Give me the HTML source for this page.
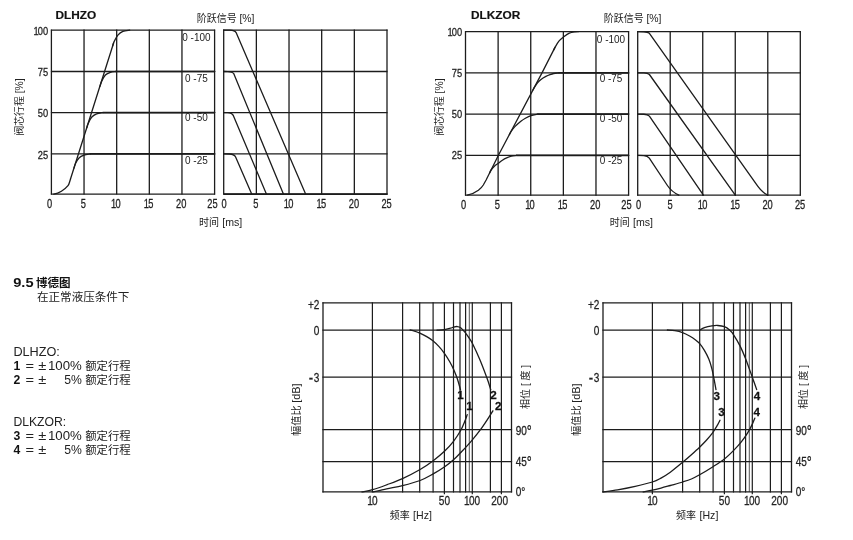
<!DOCTYPE html>
<html lang="zh"><head><meta charset="utf-8"><title>9.5 博德图</title>
<style>
html,body{margin:0;padding:0;background:#fff}
svg{display:block;font-family:"Liberation Sans", "Noto Sans CJK SC", sans-serif;transform:translateZ(0);will-change:transform}
text{white-space:pre}
</style></head>
<body>
<svg width="853" height="540" viewBox="0 0 853 540">
<rect width="853" height="540" fill="#fff"/>
<line x1="51.40" y1="29.60" x2="51.40" y2="194.60" stroke="#1c1c1c" stroke-width="1.3"/>
<line x1="84.04" y1="29.60" x2="84.04" y2="194.60" stroke="#1c1c1c" stroke-width="1.3"/>
<line x1="116.68" y1="29.60" x2="116.68" y2="194.60" stroke="#1c1c1c" stroke-width="1.3"/>
<line x1="149.32" y1="29.60" x2="149.32" y2="194.60" stroke="#1c1c1c" stroke-width="1.3"/>
<line x1="181.96" y1="29.60" x2="181.96" y2="194.60" stroke="#1c1c1c" stroke-width="1.3"/>
<line x1="214.60" y1="29.60" x2="214.60" y2="194.60" stroke="#1c1c1c" stroke-width="1.3"/>
<line x1="50.90" y1="30.10" x2="215.10" y2="30.10" stroke="#1c1c1c" stroke-width="1.3"/>
<line x1="50.90" y1="71.50" x2="215.10" y2="71.50" stroke="#1c1c1c" stroke-width="1.3"/>
<line x1="50.90" y1="112.60" x2="215.10" y2="112.60" stroke="#1c1c1c" stroke-width="1.3"/>
<line x1="50.90" y1="153.90" x2="215.10" y2="153.90" stroke="#1c1c1c" stroke-width="1.3"/>
<line x1="50.90" y1="194.10" x2="215.10" y2="194.10" stroke="#1c1c1c" stroke-width="1.3"/>
<line x1="223.70" y1="29.60" x2="223.70" y2="194.60" stroke="#1c1c1c" stroke-width="1.3"/>
<line x1="256.36" y1="29.60" x2="256.36" y2="194.60" stroke="#1c1c1c" stroke-width="1.3"/>
<line x1="289.02" y1="29.60" x2="289.02" y2="194.60" stroke="#1c1c1c" stroke-width="1.3"/>
<line x1="321.68" y1="29.60" x2="321.68" y2="194.60" stroke="#1c1c1c" stroke-width="1.3"/>
<line x1="354.34" y1="29.60" x2="354.34" y2="194.60" stroke="#1c1c1c" stroke-width="1.3"/>
<line x1="387.00" y1="29.60" x2="387.00" y2="194.60" stroke="#1c1c1c" stroke-width="1.3"/>
<line x1="223.20" y1="30.10" x2="387.50" y2="30.10" stroke="#1c1c1c" stroke-width="1.3"/>
<line x1="223.20" y1="71.50" x2="387.50" y2="71.50" stroke="#1c1c1c" stroke-width="1.3"/>
<line x1="223.20" y1="112.60" x2="387.50" y2="112.60" stroke="#1c1c1c" stroke-width="1.3"/>
<line x1="223.20" y1="153.90" x2="387.50" y2="153.90" stroke="#1c1c1c" stroke-width="1.3"/>
<line x1="223.20" y1="194.10" x2="387.50" y2="194.10" stroke="#1c1c1c" stroke-width="1.3"/>
<text transform="translate(48.20,34.90) scale(0.81,1)" font-size="11.5" text-anchor="end" font-weight="normal" fill="#222" stroke="#222" stroke-width="0.28"><tspan letter-spacing="-1.0">1</tspan>00</text>
<text transform="translate(48.20,76.30) scale(0.81,1)" font-size="11.5" text-anchor="end" font-weight="normal" fill="#222" stroke="#222" stroke-width="0.28">75</text>
<text transform="translate(48.20,117.40) scale(0.81,1)" font-size="11.5" text-anchor="end" font-weight="normal" fill="#222" stroke="#222" stroke-width="0.28">50</text>
<text transform="translate(48.20,158.70) scale(0.81,1)" font-size="11.5" text-anchor="end" font-weight="normal" fill="#222" stroke="#222" stroke-width="0.28">25</text>
<text transform="translate(49.60,207.90) scale(0.775,1)" font-size="12.0" text-anchor="middle" font-weight="normal" fill="#222" stroke="#222" stroke-width="0.28">0</text>
<text transform="translate(83.24,207.90) scale(0.775,1)" font-size="12.0" text-anchor="middle" font-weight="normal" fill="#222" stroke="#222" stroke-width="0.28">5</text>
<text transform="translate(115.88,207.90) scale(0.775,1)" font-size="12.0" text-anchor="middle" font-weight="normal" fill="#222" stroke="#222" stroke-width="0.28"><tspan letter-spacing="-1.0">1</tspan>0</text>
<text transform="translate(148.52,207.90) scale(0.775,1)" font-size="12.0" text-anchor="middle" font-weight="normal" fill="#222" stroke="#222" stroke-width="0.28"><tspan letter-spacing="-1.0">1</tspan>5</text>
<text transform="translate(181.16,207.90) scale(0.775,1)" font-size="12.0" text-anchor="middle" font-weight="normal" fill="#222" stroke="#222" stroke-width="0.28">20</text>
<text transform="translate(212.40,207.90) scale(0.775,1)" font-size="12.0" text-anchor="middle" font-weight="normal" fill="#222" stroke="#222" stroke-width="0.28">25</text>
<text transform="translate(224.20,207.90) scale(0.775,1)" font-size="12.0" text-anchor="middle" font-weight="normal" fill="#222" stroke="#222" stroke-width="0.28">0</text>
<text transform="translate(255.96,207.90) scale(0.775,1)" font-size="12.0" text-anchor="middle" font-weight="normal" fill="#222" stroke="#222" stroke-width="0.28">5</text>
<text transform="translate(288.62,207.90) scale(0.775,1)" font-size="12.0" text-anchor="middle" font-weight="normal" fill="#222" stroke="#222" stroke-width="0.28"><tspan letter-spacing="-1.0">1</tspan>0</text>
<text transform="translate(321.28,207.90) scale(0.775,1)" font-size="12.0" text-anchor="middle" font-weight="normal" fill="#222" stroke="#222" stroke-width="0.28"><tspan letter-spacing="-1.0">1</tspan>5</text>
<text transform="translate(353.94,207.90) scale(0.775,1)" font-size="12.0" text-anchor="middle" font-weight="normal" fill="#222" stroke="#222" stroke-width="0.28">20</text>
<text transform="translate(386.60,207.90) scale(0.775,1)" font-size="12.0" text-anchor="middle" font-weight="normal" fill="#222" stroke="#222" stroke-width="0.28">25</text>
<text transform="translate(196.40,41.20) scale(0.98,1)" font-size="10.2" text-anchor="middle" font-weight="normal" fill="#222" >0 -100</text>
<text transform="translate(196.40,81.60) scale(0.98,1)" font-size="10.2" text-anchor="middle" font-weight="normal" fill="#222" >0 -75</text>
<text transform="translate(196.40,121.40) scale(0.98,1)" font-size="10.2" text-anchor="middle" font-weight="normal" fill="#222" >0 -50</text>
<text transform="translate(196.40,163.80) scale(0.98,1)" font-size="10.2" text-anchor="middle" font-weight="normal" fill="#222" >0 -25</text>
<text transform="translate(55.50,19.10)" font-size="11.8" text-anchor="start" font-weight="bold" fill="#111" stroke="#111" stroke-width="0.2">DLHZO</text>
<text transform="translate(196.80,22.00)" font-size="10.0" text-anchor="start" font-weight="normal" fill="#222" >阶跃信号</text>
<text transform="translate(239.40,22.00)" font-size="10.4" text-anchor="start" font-weight="normal" fill="#222" >[%]</text>
<text transform="translate(199.00,226.00)" font-size="10.0" text-anchor="start" font-weight="normal" fill="#222" >时间</text>
<text transform="translate(222.20,226.00)" font-size="10.6" text-anchor="start" font-weight="normal" fill="#222" >[ms]</text>
<g transform="translate(22.50,135.50) rotate(-90)">
<text transform="translate(0.00,0.00)" font-size="9.8" text-anchor="start" font-weight="normal" fill="#222" >阀芯行程</text>
<text transform="translate(42.20,0.00)" font-size="10.4" text-anchor="start" font-weight="normal" fill="#222" >[%]</text>
</g>
<path d="M53.8,194.1 C56.6,193.7 59.2,192.6 61.4,191.2 C64.2,189.4 66.4,187.6 68.0,185.6 C68.8,184.6 69.2,183.4 69.6,182.0 L70.5,179.0" fill="none" stroke="#1c1c1c" stroke-width="1.3" stroke-linejoin="round" stroke-linecap="round"/>
<path d="M70.50,179.00 L113.60,43.00" fill="none" stroke="#1c1c1c" stroke-width="1.3" stroke-linejoin="round" stroke-linecap="round"/>
<path d="M112.60,46.10 C112.85,45.35 113.22,43.43 114.10,41.60 C114.98,39.77 116.43,36.80 117.90,35.10 C119.37,33.40 120.93,32.23 122.90,31.40 C124.87,30.57 128.57,30.32 129.70,30.10" fill="none" stroke="#1c1c1c" stroke-width="1.3" stroke-linejoin="round" stroke-linecap="round"/>
<path d="M74.00,168.00 C74.27,167.20 74.77,164.87 75.60,163.20 C76.43,161.53 77.60,159.33 79.00,158.00 C80.40,156.67 82.12,155.88 84.00,155.20 C85.88,154.52 89.25,154.12 90.30,153.90" fill="none" stroke="#1c1c1c" stroke-width="1.3" stroke-linejoin="round" stroke-linecap="round"/>
<path d="M90.30,153.90 L214.60,153.90" fill="none" stroke="#1c1c1c" stroke-width="1.6" stroke-linejoin="round" stroke-linecap="round"/>
<path d="M86.80,127.80 C87.03,127.07 87.40,125.17 88.20,123.40 C89.00,121.63 90.20,118.80 91.60,117.20 C93.00,115.60 94.72,114.57 96.60,113.80 C98.48,113.03 101.85,112.80 102.90,112.60" fill="none" stroke="#1c1c1c" stroke-width="1.3" stroke-linejoin="round" stroke-linecap="round"/>
<path d="M102.90,112.60 L214.60,112.60" fill="none" stroke="#1c1c1c" stroke-width="1.6" stroke-linejoin="round" stroke-linecap="round"/>
<path d="M100.00,86.40 C100.27,85.57 100.70,83.30 101.60,81.40 C102.50,79.50 103.93,76.52 105.40,75.00 C106.87,73.48 108.65,72.88 110.40,72.30 C112.15,71.72 114.98,71.63 115.90,71.50" fill="none" stroke="#1c1c1c" stroke-width="1.3" stroke-linejoin="round" stroke-linecap="round"/>
<path d="M115.90,71.50 L214.60,71.50" fill="none" stroke="#1c1c1c" stroke-width="1.6" stroke-linejoin="round" stroke-linecap="round"/>
<path d="M223.70,30.10 L230.10,30.20 C232.90,30.35 235.00,30.85 236.10,32.60 L305.60,194.10" fill="none" stroke="#1c1c1c" stroke-width="1.3" stroke-linejoin="round" stroke-linecap="round"/>
<path d="M223.70,71.50 L227.80,71.60 C230.60,71.75 232.70,72.16 233.80,73.70 L283.40,194.10" fill="none" stroke="#1c1c1c" stroke-width="1.3" stroke-linejoin="round" stroke-linecap="round"/>
<path d="M223.70,112.60 L227.50,112.70 C230.30,112.85 232.40,113.59 233.50,115.90 L266.40,194.10" fill="none" stroke="#1c1c1c" stroke-width="1.3" stroke-linejoin="round" stroke-linecap="round"/>
<path d="M223.70,153.90 L229.50,154.00 C232.30,154.15 234.40,154.77 235.50,156.80 L251.70,194.10" fill="none" stroke="#1c1c1c" stroke-width="1.3" stroke-linejoin="round" stroke-linecap="round"/>
<line x1="223.70" y1="194.10" x2="387.50" y2="194.10" stroke="#1c1c1c" stroke-width="1.7"/>
<line x1="465.50" y1="31.10" x2="465.50" y2="195.70" stroke="#1c1c1c" stroke-width="1.3"/>
<line x1="498.12" y1="31.10" x2="498.12" y2="195.70" stroke="#1c1c1c" stroke-width="1.3"/>
<line x1="530.74" y1="31.10" x2="530.74" y2="195.70" stroke="#1c1c1c" stroke-width="1.3"/>
<line x1="563.36" y1="31.10" x2="563.36" y2="195.70" stroke="#1c1c1c" stroke-width="1.3"/>
<line x1="595.98" y1="31.10" x2="595.98" y2="195.70" stroke="#1c1c1c" stroke-width="1.3"/>
<line x1="628.60" y1="31.10" x2="628.60" y2="195.70" stroke="#1c1c1c" stroke-width="1.3"/>
<line x1="465.00" y1="31.60" x2="629.10" y2="31.60" stroke="#1c1c1c" stroke-width="1.3"/>
<line x1="465.00" y1="72.90" x2="629.10" y2="72.90" stroke="#1c1c1c" stroke-width="1.3"/>
<line x1="465.00" y1="114.10" x2="629.10" y2="114.10" stroke="#1c1c1c" stroke-width="1.3"/>
<line x1="465.00" y1="155.40" x2="629.10" y2="155.40" stroke="#1c1c1c" stroke-width="1.3"/>
<line x1="465.00" y1="195.20" x2="629.10" y2="195.20" stroke="#1c1c1c" stroke-width="1.3"/>
<line x1="637.70" y1="31.10" x2="637.70" y2="195.70" stroke="#1c1c1c" stroke-width="1.3"/>
<line x1="670.22" y1="31.10" x2="670.22" y2="195.70" stroke="#1c1c1c" stroke-width="1.3"/>
<line x1="702.74" y1="31.10" x2="702.74" y2="195.70" stroke="#1c1c1c" stroke-width="1.3"/>
<line x1="735.26" y1="31.10" x2="735.26" y2="195.70" stroke="#1c1c1c" stroke-width="1.3"/>
<line x1="767.78" y1="31.10" x2="767.78" y2="195.70" stroke="#1c1c1c" stroke-width="1.3"/>
<line x1="800.30" y1="31.10" x2="800.30" y2="195.70" stroke="#1c1c1c" stroke-width="1.3"/>
<line x1="637.20" y1="31.60" x2="800.80" y2="31.60" stroke="#1c1c1c" stroke-width="1.3"/>
<line x1="637.20" y1="72.90" x2="800.80" y2="72.90" stroke="#1c1c1c" stroke-width="1.3"/>
<line x1="637.20" y1="114.10" x2="800.80" y2="114.10" stroke="#1c1c1c" stroke-width="1.3"/>
<line x1="637.20" y1="155.40" x2="800.80" y2="155.40" stroke="#1c1c1c" stroke-width="1.3"/>
<line x1="637.20" y1="195.20" x2="800.80" y2="195.20" stroke="#1c1c1c" stroke-width="1.3"/>
<text transform="translate(462.20,35.60) scale(0.81,1)" font-size="11.5" text-anchor="end" font-weight="normal" fill="#222" stroke="#222" stroke-width="0.28"><tspan letter-spacing="-1.0">1</tspan>00</text>
<text transform="translate(462.20,76.90) scale(0.81,1)" font-size="11.5" text-anchor="end" font-weight="normal" fill="#222" stroke="#222" stroke-width="0.28">75</text>
<text transform="translate(462.20,118.10) scale(0.81,1)" font-size="11.5" text-anchor="end" font-weight="normal" fill="#222" stroke="#222" stroke-width="0.28">50</text>
<text transform="translate(462.20,159.40) scale(0.81,1)" font-size="11.5" text-anchor="end" font-weight="normal" fill="#222" stroke="#222" stroke-width="0.28">25</text>
<text transform="translate(463.70,209.10) scale(0.775,1)" font-size="12.0" text-anchor="middle" font-weight="normal" fill="#222" stroke="#222" stroke-width="0.28">0</text>
<text transform="translate(497.32,209.10) scale(0.775,1)" font-size="12.0" text-anchor="middle" font-weight="normal" fill="#222" stroke="#222" stroke-width="0.28">5</text>
<text transform="translate(529.94,209.10) scale(0.775,1)" font-size="12.0" text-anchor="middle" font-weight="normal" fill="#222" stroke="#222" stroke-width="0.28"><tspan letter-spacing="-1.0">1</tspan>0</text>
<text transform="translate(562.56,209.10) scale(0.775,1)" font-size="12.0" text-anchor="middle" font-weight="normal" fill="#222" stroke="#222" stroke-width="0.28"><tspan letter-spacing="-1.0">1</tspan>5</text>
<text transform="translate(595.18,209.10) scale(0.775,1)" font-size="12.0" text-anchor="middle" font-weight="normal" fill="#222" stroke="#222" stroke-width="0.28">20</text>
<text transform="translate(626.40,209.10) scale(0.775,1)" font-size="12.0" text-anchor="middle" font-weight="normal" fill="#222" stroke="#222" stroke-width="0.28">25</text>
<text transform="translate(638.50,209.10) scale(0.775,1)" font-size="12.0" text-anchor="middle" font-weight="normal" fill="#222" stroke="#222" stroke-width="0.28">0</text>
<text transform="translate(670.02,209.10) scale(0.775,1)" font-size="12.0" text-anchor="middle" font-weight="normal" fill="#222" stroke="#222" stroke-width="0.28">5</text>
<text transform="translate(702.54,209.10) scale(0.775,1)" font-size="12.0" text-anchor="middle" font-weight="normal" fill="#222" stroke="#222" stroke-width="0.28"><tspan letter-spacing="-1.0">1</tspan>0</text>
<text transform="translate(735.06,209.10) scale(0.775,1)" font-size="12.0" text-anchor="middle" font-weight="normal" fill="#222" stroke="#222" stroke-width="0.28"><tspan letter-spacing="-1.0">1</tspan>5</text>
<text transform="translate(767.58,209.10) scale(0.775,1)" font-size="12.0" text-anchor="middle" font-weight="normal" fill="#222" stroke="#222" stroke-width="0.28">20</text>
<text transform="translate(800.10,209.10) scale(0.775,1)" font-size="12.0" text-anchor="middle" font-weight="normal" fill="#222" stroke="#222" stroke-width="0.28">25</text>
<text transform="translate(611.00,42.80) scale(0.98,1)" font-size="10.2" text-anchor="middle" font-weight="normal" fill="#222" >0 -100</text>
<text transform="translate(611.00,82.40) scale(0.98,1)" font-size="10.2" text-anchor="middle" font-weight="normal" fill="#222" >0 -75</text>
<text transform="translate(611.00,122.40) scale(0.98,1)" font-size="10.2" text-anchor="middle" font-weight="normal" fill="#222" >0 -50</text>
<text transform="translate(611.00,164.40) scale(0.98,1)" font-size="10.2" text-anchor="middle" font-weight="normal" fill="#222" >0 -25</text>
<text transform="translate(471.00,19.10)" font-size="11.8" text-anchor="start" font-weight="bold" fill="#111" stroke="#111" stroke-width="0.2">DLKZOR</text>
<text transform="translate(603.80,22.00)" font-size="10.0" text-anchor="start" font-weight="normal" fill="#222" >阶跃信号</text>
<text transform="translate(646.40,22.00)" font-size="10.4" text-anchor="start" font-weight="normal" fill="#222" >[%]</text>
<text transform="translate(609.80,226.00)" font-size="10.0" text-anchor="start" font-weight="normal" fill="#222" >时间</text>
<text transform="translate(633.00,226.00)" font-size="10.6" text-anchor="start" font-weight="normal" fill="#222" >[ms]</text>
<g transform="translate(443.00,135.60) rotate(-90)">
<text transform="translate(0.00,0.00)" font-size="9.8" text-anchor="start" font-weight="normal" fill="#222" >阀芯行程</text>
<text transform="translate(42.20,0.00)" font-size="10.4" text-anchor="start" font-weight="normal" fill="#222" >[%]</text>
</g>
<path d="M467.4,195.2 C470.2,194.6 475.0,192.8 478.4,190.3 C480.6,188.6 482.2,186.8 483.3,185.0 L486.1,180.0 L498.3,155.5 L542.0,72.9 L555.0,47.4" fill="none" stroke="#1c1c1c" stroke-width="1.3" stroke-linejoin="round" stroke-linecap="round"/>
<path d="M553.60,50.20 C553.83,49.73 554.12,48.90 555.00,47.40 C555.88,45.90 557.43,42.98 558.90,41.20 C560.37,39.42 562.07,38.03 563.80,36.70 C565.53,35.37 567.52,34.02 569.30,33.20 C571.08,32.38 572.97,32.07 574.50,31.80 C576.03,31.53 577.83,31.63 578.50,31.60" fill="none" stroke="#1c1c1c" stroke-width="1.3" stroke-linejoin="round" stroke-linecap="round"/>
<path d="M489.60,173.00 C489.85,172.50 490.30,171.13 491.10,170.00 C491.90,168.87 493.20,167.32 494.40,166.20 C495.60,165.08 496.97,164.30 498.30,163.30 C499.63,162.30 501.00,161.10 502.40,160.20 C503.80,159.30 505.18,158.57 506.70,157.90 C508.22,157.23 509.83,156.62 511.50,156.20 C513.17,155.78 515.83,155.53 516.70,155.40" fill="none" stroke="#1c1c1c" stroke-width="1.3" stroke-linejoin="round" stroke-linecap="round"/>
<path d="M516.70,155.40 L628.60,155.40" fill="none" stroke="#1c1c1c" stroke-width="1.6" stroke-linejoin="round" stroke-linecap="round"/>
<path d="M509.40,134.60 C509.68,134.07 510.30,132.60 511.10,131.40 C511.90,130.20 513.12,128.62 514.20,127.40 C515.28,126.18 516.43,125.17 517.60,124.10 C518.77,123.03 519.97,121.93 521.20,121.00 C522.43,120.07 523.38,119.38 525.00,118.50 C526.62,117.62 528.75,116.42 530.90,115.70 C533.05,114.98 536.73,114.45 537.90,114.20" fill="none" stroke="#1c1c1c" stroke-width="1.3" stroke-linejoin="round" stroke-linecap="round"/>
<path d="M537.90,114.10 L628.60,114.10" fill="none" stroke="#1c1c1c" stroke-width="1.6" stroke-linejoin="round" stroke-linecap="round"/>
<path d="M533.00,89.90 C533.25,89.43 533.75,88.28 534.50,87.10 C535.25,85.92 536.42,84.08 537.50,82.80 C538.58,81.52 539.60,80.47 541.00,79.40 C542.40,78.33 544.40,77.20 545.90,76.40 C547.40,75.60 548.70,75.08 550.00,74.60 C551.30,74.12 552.22,73.78 553.70,73.50 C555.18,73.22 558.03,73.00 558.90,72.90" fill="none" stroke="#1c1c1c" stroke-width="1.3" stroke-linejoin="round" stroke-linecap="round"/>
<path d="M558.90,72.90 L628.60,72.90" fill="none" stroke="#1c1c1c" stroke-width="1.6" stroke-linejoin="round" stroke-linecap="round"/>
<path d="M637.70,31.60 L643.90,31.75 C646.40,31.90 648.20,32.28 649.40,33.30 L757.70,186.17 C761.10,190.97 764.50,193.60 767.70,195.20" fill="none" stroke="#1c1c1c" stroke-width="1.3" stroke-linejoin="round" stroke-linecap="round"/>
<path d="M637.70,72.80 L643.90,72.95 C646.40,73.10 648.20,73.48 649.40,74.50 L735.30,195.20" fill="none" stroke="#1c1c1c" stroke-width="1.3" stroke-linejoin="round" stroke-linecap="round"/>
<path d="M637.70,114.10 L643.90,114.25 C646.40,114.40 648.20,114.90 649.40,116.10 L703.40,195.20" fill="none" stroke="#1c1c1c" stroke-width="1.3" stroke-linejoin="round" stroke-linecap="round"/>
<path d="M637.70,155.40 L643.80,155.55 C646.30,155.70 648.10,156.48 649.30,158.10 L667.40,185.51 C670.80,190.66 675.60,193.60 678.80,195.20" fill="none" stroke="#1c1c1c" stroke-width="1.3" stroke-linejoin="round" stroke-linecap="round"/>
<text transform="translate(13.20,287.30) scale(1.22,1)" font-size="12.0" text-anchor="start" font-weight="bold" fill="#111" >9.5</text>
<text transform="translate(36.00,287.30)" font-size="11.55" text-anchor="start" font-weight="bold" fill="#111" >博德图</text>
<text transform="translate(37.00,301.00)" font-size="11.55" text-anchor="start" font-weight="normal" fill="#222" >在正常液压条件下</text>
<text transform="translate(13.40,356.00) scale(1.04,1)" font-size="12.2" text-anchor="start" font-weight="normal" fill="#222" >DLHZO:</text>
<text transform="translate(13.60,370.00)" font-size="12.2" text-anchor="start" font-weight="bold" fill="#111" >1</text>
<text transform="translate(25.60,370.00) scale(1.2,1)" font-size="12.2" text-anchor="start" font-weight="normal" fill="#222" >=</text>
<text transform="translate(38.20,370.00) scale(1.2,1)" font-size="12.2" text-anchor="start" font-weight="normal" fill="#222" >±</text>
<text transform="translate(81.80,370.00) scale(1.085,1)" font-size="12.2" text-anchor="end" font-weight="normal" fill="#222" >100%</text>
<text transform="translate(85.20,370.00)" font-size="11.4" text-anchor="start" font-weight="normal" fill="#222" >额定行程</text>
<text transform="translate(13.60,383.80)" font-size="12.2" text-anchor="start" font-weight="bold" fill="#111" >2</text>
<text transform="translate(25.60,383.80) scale(1.2,1)" font-size="12.2" text-anchor="start" font-weight="normal" fill="#222" >=</text>
<text transform="translate(38.20,383.80) scale(1.2,1)" font-size="12.2" text-anchor="start" font-weight="normal" fill="#222" >±</text>
<text transform="translate(81.80,383.80)" font-size="12.2" text-anchor="end" font-weight="normal" fill="#222" >5%</text>
<text transform="translate(85.20,383.80)" font-size="11.4" text-anchor="start" font-weight="normal" fill="#222" >额定行程</text>
<text transform="translate(13.40,425.80)" font-size="12.2" text-anchor="start" font-weight="normal" fill="#222" >DLKZOR:</text>
<text transform="translate(13.60,439.80)" font-size="12.2" text-anchor="start" font-weight="bold" fill="#111" >3</text>
<text transform="translate(25.60,439.80) scale(1.2,1)" font-size="12.2" text-anchor="start" font-weight="normal" fill="#222" >=</text>
<text transform="translate(38.20,439.80) scale(1.2,1)" font-size="12.2" text-anchor="start" font-weight="normal" fill="#222" >±</text>
<text transform="translate(81.80,439.80) scale(1.085,1)" font-size="12.2" text-anchor="end" font-weight="normal" fill="#222" >100%</text>
<text transform="translate(85.20,439.80)" font-size="11.4" text-anchor="start" font-weight="normal" fill="#222" >额定行程</text>
<text transform="translate(13.60,453.60)" font-size="12.2" text-anchor="start" font-weight="bold" fill="#111" >4</text>
<text transform="translate(25.60,453.60) scale(1.2,1)" font-size="12.2" text-anchor="start" font-weight="normal" fill="#222" >=</text>
<text transform="translate(38.20,453.60) scale(1.2,1)" font-size="12.2" text-anchor="start" font-weight="normal" fill="#222" >±</text>
<text transform="translate(81.80,453.60)" font-size="12.2" text-anchor="end" font-weight="normal" fill="#222" >5%</text>
<text transform="translate(85.20,453.60)" font-size="11.4" text-anchor="start" font-weight="normal" fill="#222" >额定行程</text>
<line x1="323.00" y1="302.30" x2="323.00" y2="492.50" stroke="#1c1c1c" stroke-width="1.3"/>
<line x1="372.40" y1="302.30" x2="372.40" y2="492.50" stroke="#1c1c1c" stroke-width="1.2"/>
<line x1="402.60" y1="302.30" x2="402.60" y2="492.50" stroke="#1c1c1c" stroke-width="1.2"/>
<line x1="419.70" y1="302.30" x2="419.70" y2="492.50" stroke="#1c1c1c" stroke-width="1.2"/>
<line x1="433.10" y1="302.30" x2="433.10" y2="492.50" stroke="#1c1c1c" stroke-width="1.2"/>
<line x1="444.40" y1="302.30" x2="444.40" y2="492.50" stroke="#1c1c1c" stroke-width="1.2"/>
<line x1="453.50" y1="302.30" x2="453.50" y2="492.50" stroke="#1c1c1c" stroke-width="1.2"/>
<line x1="460.00" y1="302.30" x2="460.00" y2="492.50" stroke="#1c1c1c" stroke-width="1.2"/>
<line x1="465.60" y1="302.30" x2="465.60" y2="492.50" stroke="#1c1c1c" stroke-width="1.2"/>
<line x1="469.30" y1="302.90" x2="469.30" y2="491.90" stroke="#555" stroke-width="1.0"/>
<line x1="472.30" y1="302.30" x2="472.30" y2="492.50" stroke="#1c1c1c" stroke-width="1.2"/>
<line x1="490.40" y1="302.30" x2="490.40" y2="492.50" stroke="#1c1c1c" stroke-width="1.2"/>
<line x1="501.40" y1="302.30" x2="501.40" y2="492.50" stroke="#1c1c1c" stroke-width="1.2"/>
<line x1="511.50" y1="302.30" x2="511.50" y2="492.50" stroke="#1c1c1c" stroke-width="1.3"/>
<line x1="322.40" y1="302.90" x2="512.10" y2="302.90" stroke="#1c1c1c" stroke-width="1.3"/>
<line x1="322.40" y1="330.10" x2="512.10" y2="330.10" stroke="#1c1c1c" stroke-width="1.3"/>
<line x1="322.40" y1="377.10" x2="512.10" y2="377.10" stroke="#1c1c1c" stroke-width="1.3"/>
<line x1="322.40" y1="429.60" x2="512.10" y2="429.60" stroke="#1c1c1c" stroke-width="1.3"/>
<line x1="322.40" y1="461.60" x2="512.10" y2="461.60" stroke="#1c1c1c" stroke-width="1.3"/>
<line x1="322.40" y1="491.90" x2="512.10" y2="491.90" stroke="#1c1c1c" stroke-width="1.3"/>
<text transform="translate(319.40,308.50) scale(0.775,1)" font-size="13.0" text-anchor="end" font-weight="normal" fill="#222" stroke="#222" stroke-width="0.28">+2</text>
<text transform="translate(319.40,334.70) scale(0.775,1)" font-size="13.0" text-anchor="end" font-weight="normal" fill="#222" stroke="#222" stroke-width="0.28">0</text>
<text transform="translate(319.40,381.70) scale(0.775,1)" font-size="13.0" text-anchor="end" font-weight="normal" fill="#222" stroke="#222" stroke-width="0.28"><tspan font-size="17" dy="1.7">-</tspan><tspan dy="-1.7" dx="1.0">3</tspan></text>
<text transform="translate(515.70,434.50) scale(0.775,1)" font-size="13.0" text-anchor="start" font-weight="normal" fill="#222" stroke="#222" stroke-width="0.28">90<tspan font-size="16" dy="2.5" dx="-0.2">°</tspan></text>
<text transform="translate(515.70,465.90) scale(0.775,1)" font-size="13.0" text-anchor="start" font-weight="normal" fill="#222" stroke="#222" stroke-width="0.28">45<tspan font-size="16" dy="2.5" dx="-0.2">°</tspan></text>
<text transform="translate(515.70,495.80) scale(0.775,1)" font-size="13.0" text-anchor="start" font-weight="normal" fill="#222" stroke="#222" stroke-width="0.28">0°</text>
<text transform="translate(372.40,505.10) scale(0.775,1)" font-size="13.0" text-anchor="middle" font-weight="normal" fill="#222" stroke="#222" stroke-width="0.28"><tspan letter-spacing="-1.0">1</tspan>0</text>
<text transform="translate(444.40,505.10) scale(0.775,1)" font-size="13.0" text-anchor="middle" font-weight="normal" fill="#222" stroke="#222" stroke-width="0.28">50</text>
<text transform="translate(472.10,505.10) scale(0.775,1)" font-size="13.0" text-anchor="middle" font-weight="normal" fill="#222" stroke="#222" stroke-width="0.28"><tspan letter-spacing="-1.0">1</tspan>00</text>
<text transform="translate(499.60,505.10) scale(0.775,1)" font-size="13.0" text-anchor="middle" font-weight="normal" fill="#222" stroke="#222" stroke-width="0.28">200</text>
<line x1="444.40" y1="491.90" x2="444.40" y2="494.30" stroke="#1c1c1c" stroke-width="1.2"/>
<line x1="472.30" y1="491.90" x2="472.30" y2="494.30" stroke="#1c1c1c" stroke-width="1.2"/>
<line x1="501.40" y1="491.90" x2="501.40" y2="494.30" stroke="#1c1c1c" stroke-width="1.2"/>
<text transform="translate(389.70,519.20)" font-size="10.0" text-anchor="start" font-weight="normal" fill="#222" >频率</text>
<text transform="translate(413.10,519.20)" font-size="10.6" text-anchor="start" font-weight="normal" fill="#222" >[Hz]</text>
<g transform="translate(299.50,435.90) rotate(-90)">
<text transform="translate(0.00,0.00)" font-size="10.2" text-anchor="start" font-weight="normal" fill="#222" >幅值比</text>
<text transform="translate(33.20,0.00) scale(1.04,1)" font-size="10.4" text-anchor="start" font-weight="normal" fill="#222" >[dB]</text>
</g>
<text transform="translate(529.30,408.90) rotate(-90)" font-size="10" text-anchor="start" font-weight="normal" fill="#222" >相位 [ 度 ]</text>
<path d="M410.10,330.00 C410.83,330.18 412.97,330.62 414.50,331.10 C416.03,331.58 417.27,331.98 419.30,332.90 C421.33,333.82 424.43,335.30 426.70,336.60 C428.97,337.90 430.88,339.07 432.90,340.70 C434.92,342.33 436.88,344.30 438.80,346.40 C440.72,348.50 442.60,350.78 444.40,353.30 C446.20,355.82 447.98,358.65 449.60,361.50 C451.22,364.35 452.78,367.43 454.10,370.40 C455.42,373.37 456.43,376.07 457.50,379.30 C458.57,382.53 460.00,388.05 460.50,389.80" fill="none" stroke="#1c1c1c" stroke-width="1.3" stroke-linejoin="round" stroke-linecap="round"/>
<path d="M437.00,330.10 C438.23,330.02 442.17,329.92 444.40,329.60 C446.63,329.28 448.80,328.63 450.40,328.20 C452.00,327.77 452.90,327.28 454.00,327.00 C455.10,326.72 455.88,326.38 457.00,326.50 C458.12,326.62 459.33,326.68 460.70,327.70 C462.07,328.72 463.82,330.92 465.20,332.60 C466.58,334.28 467.77,335.95 469.00,337.80 C470.23,339.65 470.77,340.00 472.60,343.70 C474.43,347.40 477.53,354.07 480.00,360.00 C482.47,365.93 485.60,374.33 487.40,379.30 C489.20,384.27 490.23,388.05 490.80,389.80" fill="none" stroke="#1c1c1c" stroke-width="1.3" stroke-linejoin="round" stroke-linecap="round"/>
<text transform="translate(460.50,399.20) scale(1.04,1)" font-size="11.2" text-anchor="middle" font-weight="bold" fill="#111" stroke="#111" stroke-width="0.25">1</text>
<text transform="translate(493.40,399.20) scale(1.04,1)" font-size="11.2" text-anchor="middle" font-weight="bold" fill="#111" stroke="#111" stroke-width="0.25">2</text>
<path d="M362.00,491.90 C363.77,491.53 368.48,490.88 372.60,489.70 C376.72,488.52 381.72,486.65 386.70,484.80 C391.68,482.95 396.93,481.15 402.50,478.60 C408.07,476.05 414.98,472.48 420.10,469.50 C425.22,466.52 429.10,463.78 433.20,460.70 C437.30,457.62 441.32,454.23 444.70,451.00 C448.08,447.77 450.87,444.67 453.50,441.30 C456.13,437.93 458.60,434.17 460.50,430.80 C462.40,427.43 463.78,423.80 464.90,421.10 C466.02,418.40 466.82,415.68 467.20,414.60" fill="none" stroke="#1c1c1c" stroke-width="1.3" stroke-linejoin="round" stroke-linecap="round"/>
<path d="M373.40,491.90 C375.62,491.38 381.85,489.85 386.70,488.80 C391.55,487.75 396.93,486.98 402.50,485.60 C408.07,484.22 414.98,482.45 420.10,480.50 C425.22,478.55 429.10,476.18 433.20,473.90 C437.30,471.62 441.32,469.15 444.70,466.80 C448.08,464.45 450.87,462.13 453.50,459.80 C456.13,457.47 457.57,455.88 460.50,452.80 C463.43,449.72 467.58,445.42 471.10,441.30 C474.62,437.18 478.38,432.50 481.60,428.10 C484.82,423.70 488.52,417.78 490.40,414.90 C492.28,412.02 492.48,411.48 492.90,410.80" fill="none" stroke="#1c1c1c" stroke-width="1.3" stroke-linejoin="round" stroke-linecap="round"/>
<text transform="translate(469.40,410.40) scale(1.04,1)" font-size="11.2" text-anchor="middle" font-weight="bold" fill="#111" stroke="#111" stroke-width="0.25">1</text>
<text transform="translate(498.20,410.40) scale(1.04,1)" font-size="11.2" text-anchor="middle" font-weight="bold" fill="#111" stroke="#111" stroke-width="0.25">2</text>
<line x1="603.00" y1="302.30" x2="603.00" y2="492.50" stroke="#1c1c1c" stroke-width="1.3"/>
<line x1="652.40" y1="302.30" x2="652.40" y2="492.50" stroke="#1c1c1c" stroke-width="1.2"/>
<line x1="682.60" y1="302.30" x2="682.60" y2="492.50" stroke="#1c1c1c" stroke-width="1.2"/>
<line x1="699.70" y1="302.30" x2="699.70" y2="492.50" stroke="#1c1c1c" stroke-width="1.2"/>
<line x1="713.10" y1="302.30" x2="713.10" y2="492.50" stroke="#1c1c1c" stroke-width="1.2"/>
<line x1="724.40" y1="302.30" x2="724.40" y2="492.50" stroke="#1c1c1c" stroke-width="1.2"/>
<line x1="733.50" y1="302.30" x2="733.50" y2="492.50" stroke="#1c1c1c" stroke-width="1.2"/>
<line x1="740.00" y1="302.30" x2="740.00" y2="492.50" stroke="#1c1c1c" stroke-width="1.2"/>
<line x1="745.60" y1="302.30" x2="745.60" y2="492.50" stroke="#1c1c1c" stroke-width="1.2"/>
<line x1="749.30" y1="302.90" x2="749.30" y2="491.90" stroke="#555" stroke-width="1.0"/>
<line x1="752.30" y1="302.30" x2="752.30" y2="492.50" stroke="#1c1c1c" stroke-width="1.2"/>
<line x1="770.40" y1="302.30" x2="770.40" y2="492.50" stroke="#1c1c1c" stroke-width="1.2"/>
<line x1="781.40" y1="302.30" x2="781.40" y2="492.50" stroke="#1c1c1c" stroke-width="1.2"/>
<line x1="791.50" y1="302.30" x2="791.50" y2="492.50" stroke="#1c1c1c" stroke-width="1.3"/>
<line x1="602.40" y1="302.90" x2="792.10" y2="302.90" stroke="#1c1c1c" stroke-width="1.3"/>
<line x1="602.40" y1="330.10" x2="792.10" y2="330.10" stroke="#1c1c1c" stroke-width="1.3"/>
<line x1="602.40" y1="377.10" x2="792.10" y2="377.10" stroke="#1c1c1c" stroke-width="1.3"/>
<line x1="602.40" y1="429.60" x2="792.10" y2="429.60" stroke="#1c1c1c" stroke-width="1.3"/>
<line x1="602.40" y1="461.60" x2="792.10" y2="461.60" stroke="#1c1c1c" stroke-width="1.3"/>
<line x1="602.40" y1="491.90" x2="792.10" y2="491.90" stroke="#1c1c1c" stroke-width="1.3"/>
<text transform="translate(599.40,308.50) scale(0.775,1)" font-size="13.0" text-anchor="end" font-weight="normal" fill="#222" stroke="#222" stroke-width="0.28">+2</text>
<text transform="translate(599.40,334.70) scale(0.775,1)" font-size="13.0" text-anchor="end" font-weight="normal" fill="#222" stroke="#222" stroke-width="0.28">0</text>
<text transform="translate(599.40,381.70) scale(0.775,1)" font-size="13.0" text-anchor="end" font-weight="normal" fill="#222" stroke="#222" stroke-width="0.28"><tspan font-size="17" dy="1.7">-</tspan><tspan dy="-1.7" dx="1.0">3</tspan></text>
<text transform="translate(795.70,434.50) scale(0.775,1)" font-size="13.0" text-anchor="start" font-weight="normal" fill="#222" stroke="#222" stroke-width="0.28">90<tspan font-size="16" dy="2.5" dx="-0.2">°</tspan></text>
<text transform="translate(795.70,465.90) scale(0.775,1)" font-size="13.0" text-anchor="start" font-weight="normal" fill="#222" stroke="#222" stroke-width="0.28">45<tspan font-size="16" dy="2.5" dx="-0.2">°</tspan></text>
<text transform="translate(795.70,495.80) scale(0.775,1)" font-size="13.0" text-anchor="start" font-weight="normal" fill="#222" stroke="#222" stroke-width="0.28">0°</text>
<text transform="translate(652.40,505.10) scale(0.775,1)" font-size="13.0" text-anchor="middle" font-weight="normal" fill="#222" stroke="#222" stroke-width="0.28"><tspan letter-spacing="-1.0">1</tspan>0</text>
<text transform="translate(724.40,505.10) scale(0.775,1)" font-size="13.0" text-anchor="middle" font-weight="normal" fill="#222" stroke="#222" stroke-width="0.28">50</text>
<text transform="translate(752.10,505.10) scale(0.775,1)" font-size="13.0" text-anchor="middle" font-weight="normal" fill="#222" stroke="#222" stroke-width="0.28"><tspan letter-spacing="-1.0">1</tspan>00</text>
<text transform="translate(779.60,505.10) scale(0.775,1)" font-size="13.0" text-anchor="middle" font-weight="normal" fill="#222" stroke="#222" stroke-width="0.28">200</text>
<line x1="652.40" y1="491.90" x2="652.40" y2="494.30" stroke="#1c1c1c" stroke-width="1.2"/>
<line x1="724.40" y1="491.90" x2="724.40" y2="494.30" stroke="#1c1c1c" stroke-width="1.2"/>
<line x1="752.30" y1="491.90" x2="752.30" y2="494.30" stroke="#1c1c1c" stroke-width="1.2"/>
<line x1="781.40" y1="491.90" x2="781.40" y2="494.30" stroke="#1c1c1c" stroke-width="1.2"/>
<text transform="translate(676.10,519.20)" font-size="10.0" text-anchor="start" font-weight="normal" fill="#222" >频率</text>
<text transform="translate(699.50,519.20)" font-size="10.6" text-anchor="start" font-weight="normal" fill="#222" >[Hz]</text>
<g transform="translate(579.50,435.90) rotate(-90)">
<text transform="translate(0.00,0.00)" font-size="10.2" text-anchor="start" font-weight="normal" fill="#222" >幅值比</text>
<text transform="translate(33.20,0.00) scale(1.04,1)" font-size="10.4" text-anchor="start" font-weight="normal" fill="#222" >[dB]</text>
</g>
<text transform="translate(807.20,408.90) rotate(-90)" font-size="10" text-anchor="start" font-weight="normal" fill="#222" >相位 [ 度 ]</text>
<path d="M667.40,330.00 C668.63,330.12 672.28,330.27 674.80,330.70 C677.32,331.13 680.03,331.72 682.50,332.60 C684.97,333.48 687.42,334.77 689.60,336.00 C691.78,337.23 693.92,338.72 695.60,340.00 C697.28,341.28 698.23,341.97 699.70,343.70 C701.17,345.43 702.87,347.80 704.40,350.40 C705.93,353.00 707.65,356.22 708.90,359.30 C710.15,362.38 711.03,365.57 711.90,368.90 C712.77,372.23 713.42,375.85 714.10,379.30 C714.78,382.75 715.68,387.88 716.00,389.60" fill="none" stroke="#1c1c1c" stroke-width="1.3" stroke-linejoin="round" stroke-linecap="round"/>
<path d="M699.70,330.10 C700.48,329.70 702.37,328.40 704.40,327.70 C706.43,327.00 709.67,326.27 711.90,325.90 C714.13,325.53 715.72,325.37 717.80,325.50 C719.88,325.63 722.43,325.93 724.40,326.70 C726.37,327.47 728.07,328.75 729.60,330.10 C731.13,331.45 731.87,332.17 733.60,334.80 C735.33,337.43 738.02,341.95 740.00,345.90 C741.98,349.85 743.77,354.17 745.50,358.50 C747.23,362.83 748.97,367.95 750.40,371.90 C751.83,375.85 753.05,379.25 754.10,382.20 C755.15,385.15 756.27,388.37 756.70,389.60" fill="none" stroke="#1c1c1c" stroke-width="1.3" stroke-linejoin="round" stroke-linecap="round"/>
<text transform="translate(716.80,399.60) scale(1.04,1)" font-size="11.2" text-anchor="middle" font-weight="bold" fill="#111" stroke="#111" stroke-width="0.25">3</text>
<text transform="translate(757.00,399.60) scale(1.04,1)" font-size="11.2" text-anchor="middle" font-weight="bold" fill="#111" stroke="#111" stroke-width="0.25">4</text>
<path d="M602.90,491.90 C605.35,491.55 612.22,490.73 617.60,489.80 C622.98,488.87 629.40,487.60 635.20,486.30 C641.00,485.00 648.10,483.37 652.40,482.00 C656.70,480.63 658.02,479.73 661.00,478.10 C663.98,476.47 666.70,474.83 670.30,472.20 C673.90,469.57 679.08,465.22 682.60,462.30 C686.12,459.38 688.57,457.22 691.40,454.70 C694.23,452.18 697.10,449.62 699.60,447.20 C702.10,444.78 704.23,442.58 706.40,440.20 C708.57,437.82 710.73,435.45 712.60,432.90 C714.47,430.35 716.37,427.00 717.60,424.90 C718.83,422.80 719.60,421.07 720.00,420.30" fill="none" stroke="#1c1c1c" stroke-width="1.3" stroke-linejoin="round" stroke-linecap="round"/>
<path d="M643.20,491.90 C644.73,491.62 649.43,490.83 652.40,490.20 C655.37,489.57 658.02,488.88 661.00,488.10 C663.98,487.32 666.70,486.52 670.30,485.50 C673.90,484.48 679.08,483.08 682.60,482.00 C686.12,480.92 688.57,480.20 691.40,479.00 C694.23,477.80 696.00,476.85 699.60,474.80 C703.20,472.75 708.92,469.28 713.00,466.70 C717.08,464.12 720.65,462.02 724.10,459.30 C727.55,456.58 730.87,453.25 733.70,450.40 C736.53,447.55 738.75,445.17 741.10,442.20 C743.45,439.23 745.95,435.57 747.80,432.60 C749.65,429.63 751.03,426.80 752.20,424.40 C753.37,422.00 754.37,419.23 754.80,418.20" fill="none" stroke="#1c1c1c" stroke-width="1.3" stroke-linejoin="round" stroke-linecap="round"/>
<text transform="translate(721.50,416.40) scale(1.04,1)" font-size="11.2" text-anchor="middle" font-weight="bold" fill="#111" stroke="#111" stroke-width="0.25">3</text>
<text transform="translate(756.80,416.40) scale(1.04,1)" font-size="11.2" text-anchor="middle" font-weight="bold" fill="#111" stroke="#111" stroke-width="0.25">4</text>
</svg>
</body></html>
